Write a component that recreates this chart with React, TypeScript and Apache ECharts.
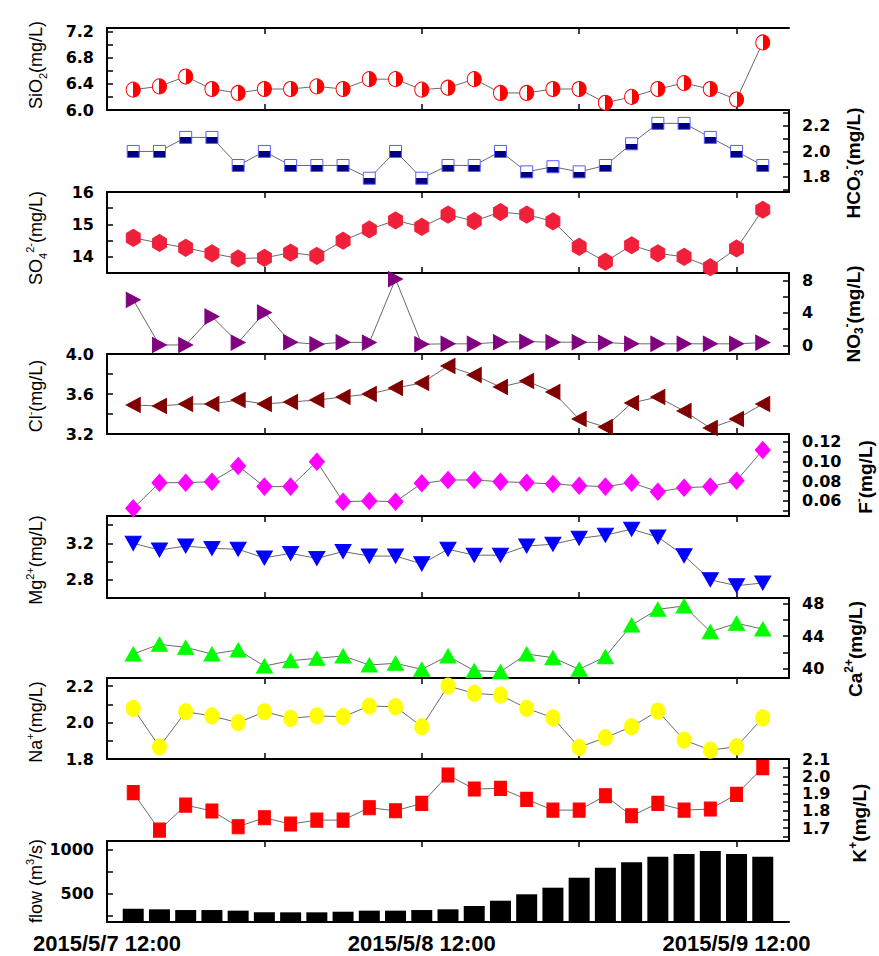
import React, { useEffect, useRef } from 'react';
import * as echarts from 'echarts';

// sampling times: hours after 2015/5/7 12:00
const sampleHours = [2, 4, 6, 8, 10, 12, 14, 16, 18, 20, 22, 24, 26, 28, 30, 32, 34, 36, 38, 40, 42, 44, 46, 48, 50];
const xTickHours = [12, 24, 36, 48];
const xLabelHours = [0, 24, 48];
const xLabelTexts = ['2015/5/7 12:00', '2015/5/8 12:00', '2015/5/9 12:00'];

const sio2 = [6.31, 6.36, 6.51, 6.32, 6.26, 6.32, 6.32, 6.36, 6.32, 6.47, 6.47, 6.31, 6.34, 6.47, 6.26, 6.26, 6.32, 6.32, 6.11, 6.2, 6.32, 6.41, 6.32, 6.16, 7.03];
const hco3 = [2.0, 2.0, 2.11, 2.11, 1.89, 2.0, 1.89, 1.89, 1.89, 1.79, 2.0, 1.79, 1.89, 1.89, 2.0, 1.84, 1.88, 1.84, 1.89, 2.06, 2.22, 2.22, 2.11, 2.0, 1.89];
const so4 = [14.58, 14.42, 14.27, 14.1, 13.94, 13.96, 14.12, 14.02, 14.49, 14.84, 15.12, 14.92, 15.3, 15.1, 15.38, 15.3, 15.09, 14.3, 13.84, 14.35, 14.1, 13.99, 13.67, 14.25, 15.45];
const no3 = [5.6, 0.06, 0.06, 3.55, 0.35, 4.04, 0.4, 0.15, 0.4, 0.35, 8.15, 0.15, 0.2, 0.2, 0.4, 0.47, 0.4, 0.4, 0.35, 0.2, 0.2, 0.2, 0.2, 0.2, 0.35];
const cl = [3.49, 3.48, 3.5, 3.5, 3.54, 3.5, 3.52, 3.54, 3.57, 3.6, 3.66, 3.71, 3.88, 3.79, 3.67, 3.73, 3.62, 3.35, 3.27, 3.51, 3.57, 3.43, 3.26, 3.35, 3.5];
const fl = [0.0526, 0.0785, 0.0785, 0.0795, 0.0954, 0.0745, 0.0745, 0.0997, 0.0593, 0.06, 0.0593, 0.0778, 0.0812, 0.0812, 0.0795, 0.0785, 0.0772, 0.0755, 0.0745, 0.0785, 0.0694, 0.0734, 0.0745, 0.0805, 0.1115];
const mg = [3.2, 3.127, 3.17, 3.145, 3.135, 3.04, 3.09, 3.035, 3.11, 3.06, 3.06, 2.975, 3.135, 3.07, 3.07, 3.17, 3.19, 3.255, 3.29, 3.355, 3.27, 3.065, 2.8, 2.735, 2.765];
const ca = [41.78, 42.98, 42.6, 41.78, 42.28, 40.3, 40.96, 41.25, 41.54, 40.43, 40.64, 39.9, 41.54, 39.73, 39.6, 41.78, 41.33, 39.9, 41.45, 45.35, 47.28, 47.7, 44.53, 45.56, 44.86];
const na = [2.078, 1.867, 2.059, 2.036, 1.999, 2.059, 2.023, 2.036, 2.032, 2.09, 2.087, 1.977, 2.2, 2.16, 2.15, 2.078, 2.026, 1.864, 1.917, 1.977, 2.063, 1.904, 1.849, 1.867, 2.026];
const kk = [1.905, 1.688, 1.833, 1.799, 1.708, 1.76, 1.723, 1.746, 1.746, 1.818, 1.8, 1.843, 2.007, 1.926, 1.93, 1.866, 1.804, 1.804, 1.887, 1.771, 1.843, 1.804, 1.81, 1.895, 2.05];
const flow = [327, 320, 312, 312, 305, 286, 286, 286, 293, 305, 305, 312, 320, 358, 418, 491, 566, 680, 793, 855, 918, 949, 983, 949, 918];

// axis tick / label values per panel
const sio2Labels = [6.0, 6.4, 6.8, 7.2];
const sio2Ticks = [6.0, 6.2, 6.4, 6.6, 6.8, 7.0, 7.2];
const hco3Labels = [1.8, 2.0, 2.2];
const hco3Ticks = [1.7, 1.8, 1.9, 2.0, 2.1, 2.2, 2.3];
const so4Labels = [14, 15, 16];
const so4Ticks = [13.5, 14, 14.5, 15, 15.5, 16];
const no3Labels = [0, 4, 8];
const no3Ticks = [0, 2, 4, 6, 8];
const clLabels = [3.2, 3.6, 4.0];
const clTicks = [3.2, 3.4, 3.6, 3.8, 4.0];
const fLabels = [0.06, 0.08, 0.1, 0.12];
const fTicks = [0.05, 0.06, 0.07, 0.08, 0.09, 0.1, 0.11, 0.12];
const mgLabels = [2.8, 3.2];
const mgTicks = [2.6, 2.8, 3.0, 3.2, 3.4];
const caLabels = [40, 44, 48];
const caTicks = [40, 42, 44, 46, 48];
const naLabels = [1.8, 2.0, 2.2];
const naTicks = [1.8, 1.9, 2.0, 2.1, 2.2];
const kLabels = [1.7, 1.8, 1.9, 2.0, 2.1];
const kTicks = [1.65, 1.7, 1.75, 1.8, 1.85, 1.9, 1.95, 2.0, 2.05, 2.1];
const flowLabels = [500, 1000];
const flowTicks = [250, 500, 750, 1000];

const edges = [28, 110, 192, 273, 354, 434, 516, 598, 678, 759, 841, 922];

const tickFont = { fontFamily: 'DejaVu Sans', fontWeight: 'bold', fontSize: 16, color: '#000' };

function halfH(a: string, b: string) {
  return new echarts.graphic.LinearGradient(0, 0, 1, 0, [
    { offset: 0, color: a }, { offset: 0.5, color: a }, { offset: 0.5, color: b }, { offset: 1, color: b },
  ]);
}
function halfV(a: string, b: string) {
  return new echarts.graphic.LinearGradient(0, 0, 0, 1, [
    { offset: 0, color: a }, { offset: 0.5, color: a }, { offset: 0.5, color: b }, { offset: 1, color: b },
  ]);
}

const HEX = 'path://M5,0 L10,2.9 L10,8.6 L5,11.5 L0,8.6 L0,2.9 Z';
const TRI_R = 'path://M0,0 L10,5 L0,10 Z';
const TRI_L = 'path://M10,0 L0,5 L10,10 Z';
const TRI_D = 'path://M0,0 L10,0 L5,10 Z';

type Panel = {
  values: number[]; side: 'left' | 'right'; min: number; max: number;
  labels: number[]; ticks: number[]; dec: number;
  symbol?: string; size?: number[]; color?: any; border?: string; bar?: boolean;
};

const panels: Panel[] = [
  { values: sio2, side: 'left', min: 6.0, max: 7.25, labels: sio2Labels, ticks: sio2Ticks, dec: 1, symbol: 'circle', size: [14, 15], color: halfH('#ffffff', '#ff0000'), border: '#ff0000' },
  { values: hco3, side: 'right', min: 1.682, max: 2.325, labels: hco3Labels, ticks: hco3Ticks, dec: 1, symbol: 'rect', size: [12, 12], color: halfV('#ffffff', '#000080'), border: '#5a5aff' },
  { values: so4, side: 'left', min: 13.49, max: 16.0, labels: so4Labels, ticks: so4Ticks, dec: 0, symbol: HEX, size: [14, 17], color: '#f0203a', border: '#f0203a' },
  { values: no3, side: 'right', min: -1.05, max: 8.9, labels: no3Labels, ticks: no3Ticks, dec: 0, symbol: TRI_R, size: [14, 15], color: '#800080', border: '#800080' },
  { values: cl, side: 'left', min: 3.2, max: 4.0, labels: clLabels, ticks: clTicks, dec: 1, symbol: TRI_L, size: [14, 15], color: '#800000', border: '#800000' },
  { values: fl, side: 'right', min: 0.0448, max: 0.1277, labels: fLabels, ticks: fTicks, dec: 2, symbol: 'diamond', size: [15, 17], color: '#ff00ff', border: '#ff00ff' },
  { values: mg, side: 'left', min: 2.6, max: 3.5, labels: mgLabels, ticks: mgTicks, dec: 1, symbol: TRI_D, size: [16, 14], color: '#0000ff', border: '#0000ff' },
  { values: ca, side: 'right', min: 38.83, max: 48.68, labels: caLabels, ticks: caTicks, dec: 0, symbol: 'triangle', size: [16, 14], color: '#00ff00', border: '#00ff00' },
  { values: na, side: 'left', min: 1.8, max: 2.244, labels: naLabels, ticks: naTicks, dec: 1, symbol: 'circle', size: [14, 16], color: '#ffff00', border: '#ffff00' },
  { values: kk, side: 'right', min: 1.625, max: 2.1, labels: kLabels, ticks: kTicks, dec: 1, symbol: 'rect', size: [12, 14], color: '#ff0000', border: '#ff0000' },
  { values: flow, side: 'left', min: 176, max: 1097, labels: flowLabels, ticks: flowTicks, dec: 0, bar: true },
];

const leftNames = [
  { text: '{n|SiO}{sub|2}{n|(mg/L)}', x: 36, y: 65 },
  { text: '{n|SO}{sub|4}{sup|2-}{n|(mg/L)}', x: 36, y: 238 },
  { text: '{n|Cl}{sup|-}{n|(mg/L)}', x: 36, y: 396 },
  { text: '{n|Mg}{sup|2+}{n|(mg/L)}', x: 36, y: 560 },
  { text: '{n|Na}{sup|+}{n|(mg/L)}', x: 36, y: 722 },
  { text: '{n|flow (m}{sup|3}{n|/s)}', x: 36, y: 881 },
];
const rightNames = [
  { text: '{n|HCO}{sub|3}{sup|-}{n|(mg/L)}', x: 853, y: 163 },
  { text: '{n|NO}{sub|3}{sup|-}{n|(mg/L)}', x: 853, y: 314 },
  { text: '{n|F}{sup|-}{n|(mg/L)}', x: 865, y: 477 },
  { text: '{n|Ca}{sup|2+}{n|(mg/L)}', x: 855, y: 649 },
  { text: '{n|K}{sup|+}{n|(mg/L)}', x: 859, y: 823 },
];

function nameRich(size: number, weight: string) {
  const base = { fill: '#000', fontFamily: 'Liberation Sans', fontWeight: weight };
  return {
    n: { ...base, fontSize: size, lineHeight: 24, verticalAlign: 'middle' },
    sub: { ...base, fontSize: Math.round(size * 0.62), lineHeight: 11, verticalAlign: 'bottom' },
    sup: { ...base, fontSize: Math.round(size * 0.62), lineHeight: 11, verticalAlign: 'top' },
  };
}

export default function App() {
  const ref = useRef<HTMLDivElement>(null);
  useEffect(() => {
    if (!ref.current) return;
    const chart = echarts.init(ref.current, null, { renderer: 'svg' });
    const grid: any[] = [];
    const xAxis: any[] = [];
    const yAxis: any[] = [];
    const series: any[] = [];
    const axisLineStyle = { color: '#000', width: 2 };
    panels.forEach((p, i) => {
      grid.push({ left: 107, width: 682, top: edges[i], height: edges[i + 1] - edges[i] });
      const isLeft = p.side === 'left';
      const isLast = i === panels.length - 1;
      const bottomIdx = xAxis.length;
      xAxis.push({
        type: 'value', gridIndex: i, position: 'bottom', min: 0, max: 52, show: isLeft,
        axisLine: { show: true, onZero: false, lineStyle: axisLineStyle },
        axisTick: { show: true, inside: true, length: 6, customValues: xTickHours, lineStyle: { color: '#000', width: 1.5 } },
        axisLabel: {
          show: isLast, customValues: xLabelHours, margin: 10,
          formatter: (v: number) => xLabelTexts[xLabelHours.indexOf(v)] ?? '',
          fontFamily: 'Liberation Sans', fontWeight: 'bold', fontSize: 22, color: '#000',
        },
        splitLine: { show: false },
      });
      if (isLeft) {
        xAxis.push({
          type: 'value', gridIndex: i, position: 'top', min: 0, max: 52,
          axisLine: { show: true, onZero: false, lineStyle: axisLineStyle },
          axisTick: { show: true, inside: true, length: 6, customValues: xTickHours, lineStyle: { color: '#000', width: 1.5 } },
          axisLabel: { show: false },
          splitLine: { show: false },
        });
      }
      yAxis.push({
        type: 'value', gridIndex: i, position: p.side, min: p.min, max: p.max,
        axisLine: { show: true, onZero: false, lineStyle: axisLineStyle },
        axisTick: { show: true, inside: true, length: 6, customValues: p.ticks, lineStyle: { color: '#000', width: 1.5 } },
        axisLabel: { ...tickFont, margin: 13, customValues: p.labels, formatter: (v: number) => v.toFixed(p.dec) },
        splitLine: { show: false },
      });
      const data = sampleHours.map((h, j) => [h, p.values[j]]);
      if (p.bar) {
        series.push({
          type: 'bar', xAxisIndex: bottomIdx, yAxisIndex: i, data, barWidth: 21, clip: true,
          itemStyle: { color: '#000' },
        });
      } else {
        series.push({
          type: 'line', xAxisIndex: bottomIdx, yAxisIndex: i, data, clip: false,
          symbol: p.symbol, symbolSize: p.size, showAllSymbol: true,
          lineStyle: { color: '#444', width: 0.8 },
          itemStyle: { color: p.color, borderColor: p.border, borderWidth: 1 },
          z: 3,
        });
      }
    });
    const graphic: any[] = [];
    leftNames.forEach((t) => graphic.push({
      type: 'text', x: t.x, y: t.y, rotation: Math.PI / 2,
      style: { text: t.text, rich: nameRich(18, 'normal'), align: 'center', verticalAlign: 'middle', fill: '#000', fontSize: 18, fontFamily: 'Liberation Sans' },
    }));
    rightNames.forEach((t) => graphic.push({
      type: 'text', x: t.x, y: t.y, rotation: Math.PI / 2,
      style: { text: t.text, rich: nameRich(19, 'bold'), align: 'center', verticalAlign: 'middle', fill: '#000', fontSize: 19, fontWeight: 'bold', fontFamily: 'Liberation Sans' },
    }));
    chart.setOption({
      animation: false,
      backgroundColor: '#fff',
      grid, xAxis, yAxis, series, graphic,
    });
    return () => chart.dispose();
  }, []);
  return <div ref={ref} style={{ position: 'absolute', left: 0, top: 0, width: 879, height: 956 }} />;
}
